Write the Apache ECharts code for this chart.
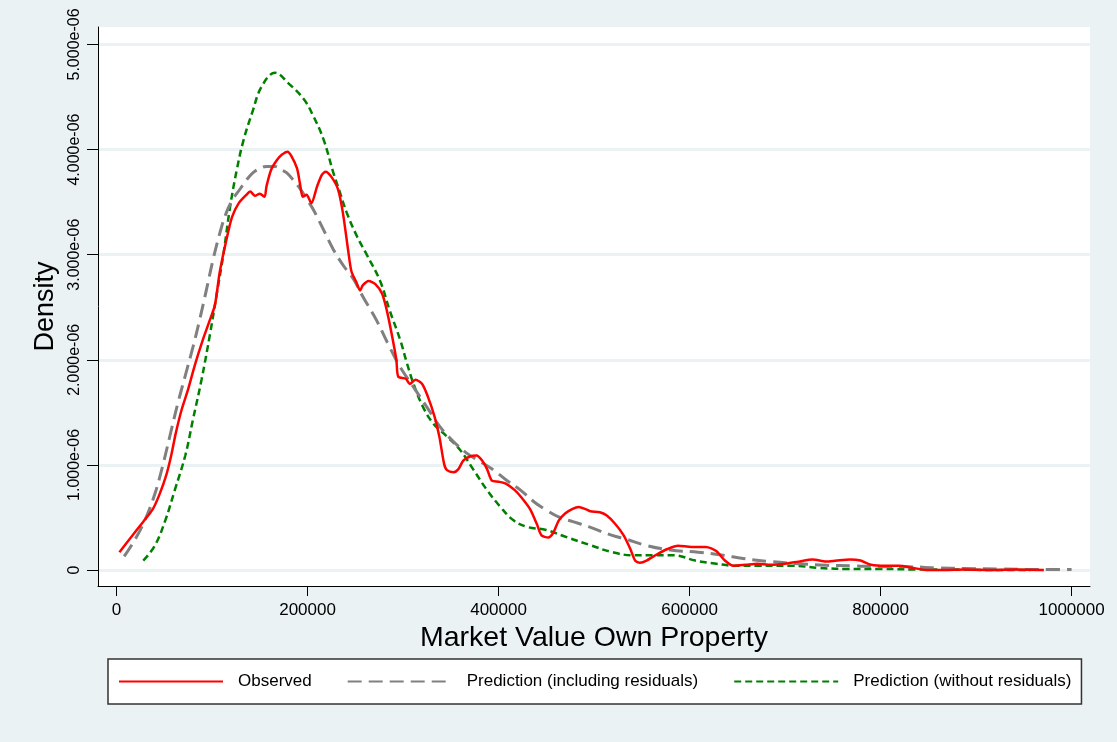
<!DOCTYPE html>
<html>
<head>
<meta charset="utf-8">
<script src="https://cdn.jsdelivr.net/npm/echarts@6/dist/echarts.min.js"></script>
<style>
html,body{margin:0;padding:0;background:#EAF2F3;}
#chart{width:1117px;height:742px;}
</style>
</head>
<body>
<div id="chart"></div>
<script>
// Density values are given in units of 1e-6
const DENSITY_UNIT = 1e-6;

const xTicks = [0, 200000, 400000, 600000, 800000, 1000000];
const yTicks = [0, 1e-6, 2e-6, 3e-6, 4e-6, 5e-6];

const seriesNames = ['Observed', 'Prediction (including residuals)', 'Prediction (without residuals)'];

// Observed
const obsX = [3000,15000,28000,38000,45000,52000,57000,62000,68000,75000,82000,90000,97000,103000,108000,115000,121000,128000,136000,140000,145000,150000,155000,157000,162000,168000,173000,179000,183000,189000,192000,195000,199000,204000,210000,215000,219000,225000,232000,237000,243000,246000,251000,255000,258000,264000,271000,278000,283000,288000,293000,295000,303000,307000,313000,320000,326000,333000,338000,343000,346000,353000,358000,363000,370000,377000,383000,388000,393000,400000,408000,417000,424000,433000,440000,445000,452000,457000,463000,470000,477000,484000,491000,496000,506000,513000,522000,531000,538000,543000,548000,555000,566000,577000,588000,602000,617000,628000,637000,646000,659000,671000,685000,700000,714000,729000,743000,754000,768000,779000,790000,805000,819000,834000,848000,866000,888000,917000,942000,971000];
const obsY = [0.17,0.31,0.46,0.58,0.72,0.90,1.08,1.30,1.52,1.72,1.95,2.18,2.36,2.52,2.83,3.14,3.36,3.49,3.57,3.60,3.56,3.58,3.55,3.65,3.81,3.90,3.95,3.98,3.94,3.82,3.68,3.55,3.57,3.49,3.65,3.76,3.79,3.74,3.62,3.40,3.01,2.84,2.74,2.66,2.71,2.75,2.72,2.63,2.47,2.25,2.00,1.84,1.82,1.77,1.81,1.77,1.65,1.46,1.27,1.01,0.95,0.93,0.96,1.04,1.08,1.09,1.04,0.96,0.85,0.84,0.82,0.76,0.69,0.58,0.44,0.33,0.31,0.35,0.47,0.54,0.58,0.60,0.58,0.56,0.55,0.52,0.44,0.33,0.20,0.09,0.07,0.09,0.15,0.20,0.23,0.22,0.22,0.18,0.09,0.04,0.05,0.06,0.05,0.06,0.08,0.10,0.08,0.09,0.10,0.09,0.05,0.04,0.04,0.02,0.00,0.00,0.005,0.00,0.005,0.00];

// Prediction (including residuals)
const incX = [8000,20000,30000,40000,48000,56000,64000,72000,80000,87000,94000,101000,108000,115000,122000,129000,136000,143000,150000,157000,166000,172000,178000,185000,192000,199000,206000,216000,227000,238000,248000,258000,272000,286000,297000,311000,325000,339000,353000,367000,381000,395000,409000,423000,437000,450000,464000,478000,495000,519000,535000,552000,580000,609000,635000,656000,685000,714000,743000,772000,801000,830000,859000,888000,924000,967000,1000000];
const incY = [0.13,0.30,0.48,0.72,0.98,1.28,1.58,1.85,2.12,2.38,2.66,2.95,3.20,3.40,3.53,3.62,3.71,3.78,3.82,3.84,3.84,3.81,3.78,3.71,3.63,3.53,3.43,3.25,3.05,2.89,2.77,2.60,2.38,2.12,1.93,1.74,1.55,1.36,1.22,1.11,1.03,0.95,0.85,0.76,0.65,0.57,0.50,0.46,0.41,0.33,0.29,0.24,0.19,0.17,0.14,0.11,0.08,0.06,0.045,0.04,0.03,0.03,0.02,0.015,0.01,0.005,0.005];

// Prediction (without residuals)
const woX = [28000,40000,51000,61000,72000,80000,89000,98000,105000,112000,119000,126000,133000,142000,152000,166000,180000,196000,206000,217000,227000,234000,241000,252000,262000,276000,286000,297000,304000,311000,321000,332000,346000,360000,374000,388000,402000,416000,430000,450000,472000,495000,519000,541000,562000,584000,606000,628000,649000,671000,707000,736000,765000,801000,837000,881000,917000,957000];
const woY = [0.09,0.23,0.47,0.76,1.09,1.43,1.81,2.25,2.63,3.01,3.46,3.81,4.09,4.35,4.60,4.73,4.63,4.48,4.32,4.09,3.78,3.59,3.40,3.17,3.00,2.75,2.47,2.19,1.97,1.77,1.55,1.39,1.27,1.14,0.95,0.76,0.60,0.47,0.41,0.38,0.31,0.24,0.17,0.14,0.14,0.14,0.09,0.06,0.04,0.04,0.04,0.02,0.01,0.01,0.005,0.005,0.00,0.00];

function pairs(xs, ys) {
  return xs.map((x, i) => [x, ys[i] * DENSITY_UNIT]);
}

const FONT = '"Liberation Sans", Arial, sans-serif';

const chart = echarts.init(document.getElementById('chart'), null, {renderer: 'canvas'});
chart.setOption({
  backgroundColor: '#EAF2F3',
  animation: false,
  textStyle: {fontFamily: FONT, color: '#000'},
  grid: {
    left: 98, right: 27, top: 27, bottom: 156,
    show: true, backgroundColor: '#FFFFFF', borderWidth: 0,
    containLabel: false
  },
  xAxis: {
    type: 'value',
    min: -19400, max: 1019300,
    name: 'Market Value Own Property',
    nameLocation: 'middle',
    nameGap: 33,
    nameTextStyle: {fontSize: 28.5, color: '#000', fontFamily: FONT},
    axisLine: {show: true, onZero: false, lineStyle: {color: '#000', width: 1}},
    axisTick: {show: true, length: 10, lineStyle: {color: '#000', width: 1}, customValues: xTicks},
    axisLabel: {fontSize: 17, color: '#000', margin: 16, customValues: xTicks, fontFamily: FONT,
      formatter: v => String(Math.round(v))},
    splitLine: {show: false}
  },
  yAxis: {
    type: 'value',
    min: -0.152e-6, max: 5.166e-6,
    name: 'Density',
    nameLocation: 'middle',
    nameGap: 34,
    nameRotate: 90,
    nameTextStyle: {fontSize: 27, color: '#000', fontFamily: FONT},
    axisLine: {show: true, onZero: false, lineStyle: {color: '#000', width: 1}},
    axisTick: {show: true, length: 11, lineStyle: {color: '#000', width: 1}, customValues: yTicks},
    axisLabel: {fontSize: 16, color: '#000', rotate: 90, margin: 15, customValues: yTicks, fontFamily: FONT,
      formatter: v => Math.abs(v) < 1e-12 ? '0' : (v / DENSITY_UNIT).toFixed(3) + 'e-06'},
    splitLine: {show: true, lineStyle: {color: '#EAF2F3', width: 3}}
  },
  legend: {
    show: true,
    left: 108, top: 659,
    orient: 'horizontal',
    backgroundColor: '#FFFFFF',
    borderColor: '#333',
    borderWidth: 1.5,
    borderRadius: 0,
    padding: [14, 10, 14, 10],
    itemWidth: 104,
    itemHeight: 20,
    itemGap: 35,
    icon: 'inherit',
    itemStyle: {opacity: 0},
    textStyle: {fontSize: 17, color: '#000', fontFamily: FONT, padding: [0, 0, 0, 10]},
    data: seriesNames
  },
  series: [
    {
      name: seriesNames[0], type: 'line', data: pairs(obsX, obsY),
      showSymbol: false, symbol: 'none', smooth: 0.25,
      lineStyle: {color: '#FF0000', width: 2.5, type: 'solid'},
      itemStyle: {color: '#FF0000'}, z: 4
    },
    {
      name: seriesNames[1], type: 'line', data: pairs(incX, incY),
      showSymbol: false, symbol: 'none', smooth: 0.4,
      lineStyle: {color: '#808080', width: 3, type: [14, 7]},
      itemStyle: {color: '#808080'}, z: 3
    },
    {
      name: seriesNames[2], type: 'line', data: pairs(woX, woY),
      showSymbol: false, symbol: 'none', smooth: 0.4,
      lineStyle: {color: '#008000', width: 2.5, type: [7, 4]},
      itemStyle: {color: '#008000'}, z: 2
    }
  ]
});
</script>
</body>
</html>
